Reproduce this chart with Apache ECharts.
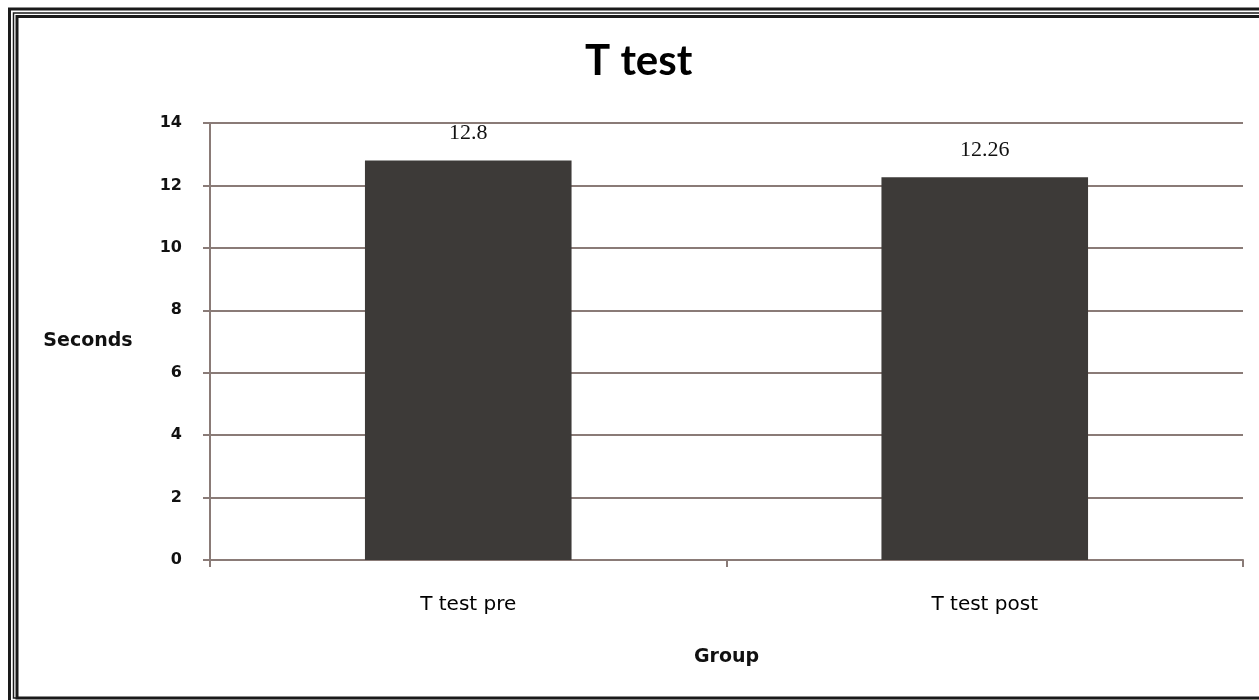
<!DOCTYPE html>
<html>
<head>
<meta charset="utf-8">
<script src="https://cdn.jsdelivr.net/npm/echarts@6/dist/echarts.min.js"></script>
<style>
html,body{margin:0;padding:0;background:#fff;}
#chart{width:1259px;height:700px;}
</style>
</head>
<body>
<div id="chart"></div>
<script>
const titleText = 'T test';
const categories = ['T test pre', 'T test post'];
const seconds = [12.8, 12.26];
const yTicks = { min: 0, max: 14, interval: 2 };
const xName = 'Group';
const yName = 'Seconds';

const chart = echarts.init(document.getElementById('chart'));
const axisColor = '#8a7b77';
const frame = '#1a1a1a';
chart.setOption({
  backgroundColor: '#fff',
  animation: false,
  title: {
    text: titleText,
    left: 580,
    top: 35,
    textStyle: { fontFamily: 'Lato', fontWeight: 'bold', fontSize: 42, color: '#000' }
  },
  graphic: [
    { type: 'rect', shape: { x: 9.5, y: 9, width: 1300, height: 700 }, style: { fill: null, stroke: frame, lineWidth: 3 } },
    { type: 'rect', shape: { x: 13.5, y: 13, width: 1300, height: 685 }, style: { fill: null, stroke: frame, lineWidth: 1.5 } },
    { type: 'rect', shape: { x: 17, y: 16.5, width: 1300, height: 681.5 }, style: { fill: null, stroke: frame, lineWidth: 3 } }
  ],
  grid: { left: 210, right: 16, top: 123, bottom: 140 },
  xAxis: {
    type: 'category',
    data: categories,
    name: xName,
    nameLocation: 'middle',
    nameGap: 88,
    nameTextStyle: { fontFamily: 'DejaVu Sans', fontWeight: 'bold', fontSize: 19, color: '#111' },
    axisLine: { lineStyle: { color: axisColor, width: 2 } },
    axisTick: { show: true, length: 7, lineStyle: { color: axisColor, width: 2 } },
    axisLabel: { margin: 35, fontFamily: 'DejaVu Sans', fontSize: 20, color: '#000' }
  },
  yAxis: {
    type: 'value',
    min: yTicks.min, max: yTicks.max, interval: yTicks.interval,
    name: yName,
    nameLocation: 'middle',
    nameRotate: 0,
    nameGap: 122,
    nameTextStyle: { fontFamily: 'DejaVu Sans', fontWeight: 'bold', fontSize: 19, color: '#111', align: 'center' },
    axisLine: { show: true, lineStyle: { color: axisColor, width: 2 } },
    axisTick: { show: true, length: 7, lineStyle: { color: axisColor, width: 2 } },
    axisLabel: { margin: 28, fontFamily: 'DejaVu Sans', fontWeight: 'bold', fontSize: 16, color: '#111' },
    splitLine: { lineStyle: { color: axisColor, width: 2 } }
  },
  series: [{
    type: 'bar',
    data: seconds,
    barWidth: '40%',
    itemStyle: { color: '#3d3a38' },
    label: {
      show: true, position: 'top', distance: 16,
      fontFamily: 'Liberation Serif', fontSize: 22, color: '#111'
    }
  }]
});
</script>
</body>
</html>
